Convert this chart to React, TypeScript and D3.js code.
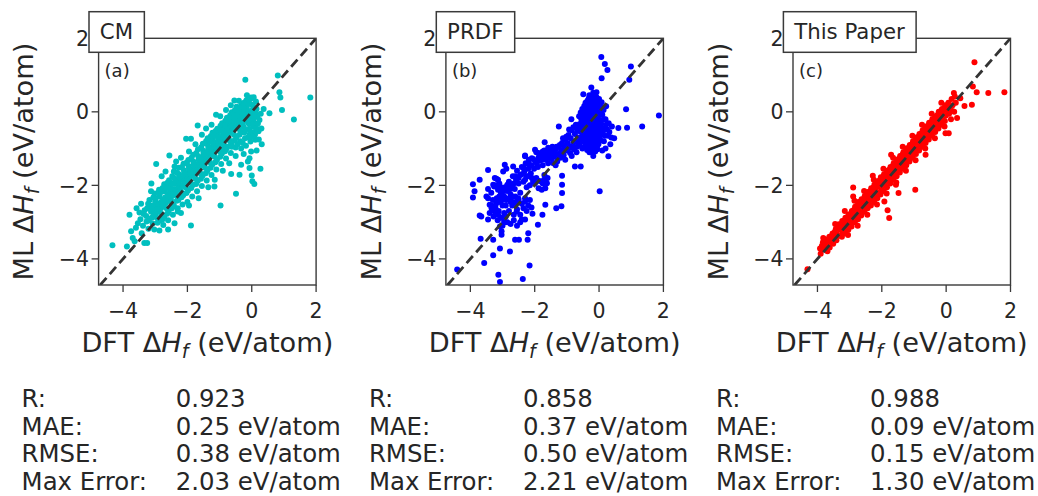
import React, { useEffect, useRef } from 'react';
import * as d3 from 'd3';

const W = 1038;
const H = 496;

const xTicks = [-4, -2, 0, 2];
const yTicks = [-4, -2, 0, 2];
const xDomain = [-4.76, 2];
const yDomain = [-4.71, 2];

const panelTitles = ['CM', 'PRDF', 'This Paper'];
const panelLetters = ['(a)', '(b)', '(c)'];
const panelColors = ['#00bfbf', '#0000ff', '#ff0000'];

const statLabels = ['R:', 'MAE:', 'RMSE:', 'Max Error:'];
const cmStats = ['0.923', '0.25 eV/atom', '0.38 eV/atom', '2.03 eV/atom'];
const prdfStats = ['0.858', '0.37 eV/atom', '0.50 eV/atom', '2.21 eV/atom'];
const paperStats = ['0.988', '0.09 eV/atom', '0.15 eV/atom', '1.30 eV/atom'];

const cmPoints: [number, number][] = [
  [-4.33,-3.63],[-3.88,-3.66],[-3.80,-2.80],[-3.75,-3.25],[-3.70,-3.43],[-3.64,-3.52],[-3.54,-3.03],[-3.49,-2.74],[-3.44,-2.50],[-3.34,-3.57],[-3.25,-3.57],[-3.60,-3.15],[-3.42,-3.30],
  [-3.46,-2.92],[-3.38,-3.10],[-3.33,-2.68],[-3.28,-2.83],[-3.27,-2.98],[-3.21,-3.18],[-3.18,-2.40],[-3.16,-2.57],[-3.13,-2.72],[-3.11,-2.88],[-3.08,-3.04],[-3.03,-3.20],[-3.02,-2.22],[-3.00,-2.43],[-2.98,-2.58],[-2.97,-2.75],[-2.95,-2.88],[-2.93,-3.02],[-2.87,-3.23],[-2.88,-2.12],[-2.86,-2.31],[-2.84,-2.47],[-2.82,-2.62],[-2.80,-2.78],[-2.78,-2.93],[-2.75,-3.08],[-2.72,-1.97],[-2.71,-2.16],[-2.69,-2.33],[-2.67,-2.48],[-2.65,-2.62],[-2.63,-2.77],[-2.60,-2.95],[-2.57,-1.86],[-2.56,-2.03],[-2.54,-2.18],[-2.52,-2.33],[-2.50,-2.47],[-2.48,-2.62],[-2.45,-2.80],
  [-2.42,-1.62],[-2.41,-1.80],[-2.39,-1.96],[-2.37,-2.12],[-2.35,-2.27],[-2.33,-2.42],[-2.30,-2.62],[-2.27,-1.52],[-2.26,-1.70],[-2.24,-1.86],[-2.22,-2.01],[-2.20,-2.16],[-2.18,-2.32],[-2.15,-2.52],[-2.12,-1.41],[-2.11,-1.59],[-2.09,-1.76],[-2.07,-1.91],[-2.05,-2.06],[-2.03,-2.21],[-2.00,-2.45],[-1.97,-1.31],[-1.96,-1.47],[-1.94,-1.62],[-1.92,-1.77],[-1.90,-1.92],[-1.88,-2.07],[-1.85,-2.30],[-1.82,-1.17],[-1.81,-1.36],[-1.79,-1.51],[-1.77,-1.66],[-1.75,-1.81],[-1.73,-1.96],[-1.70,-2.16],[-1.67,-1.02],[-1.66,-1.21],[-1.64,-1.37],[-1.62,-1.52],[-1.60,-1.67],[-1.58,-1.82],[-1.55,-2.02],[-1.52,-0.87],[-1.51,-1.06],[-1.49,-1.22],[-1.47,-1.37],[-1.45,-1.52],[-1.43,-1.67],[-1.40,-1.87],
  [-1.37,-0.72],[-1.36,-0.91],[-1.34,-1.07],[-1.32,-1.22],[-1.30,-1.37],[-1.28,-1.52],[-1.25,-1.72],[-1.22,-0.57],[-1.21,-0.76],[-1.19,-0.92],[-1.17,-1.07],[-1.15,-1.22],[-1.13,-1.37],[-1.10,-1.57],[-1.07,-0.46],[-1.06,-0.62],[-1.04,-0.77],[-1.02,-0.92],[-1.00,-1.07],[-0.98,-1.22],[-0.95,-1.42],[-0.92,-0.31],[-0.91,-0.47],[-0.89,-0.62],[-0.87,-0.77],[-0.85,-0.92],[-0.83,-1.07],[-0.80,-1.27],[-0.77,-0.16],[-0.76,-0.32],[-0.74,-0.47],[-0.72,-0.62],[-0.70,-0.77],[-0.68,-0.92],[-0.65,-1.12],[-0.62,-0.01],[-0.61,-0.17],[-0.59,-0.32],[-0.57,-0.47],[-0.55,-0.62],[-0.53,-0.77],[-0.50,-0.97],[-0.47,0.14],[-0.46,-0.02],[-0.44,-0.17],[-0.42,-0.32],[-0.40,-0.47],[-0.38,-0.62],[-0.36,-0.80],[-0.33,-1.00],[-0.32,0.21],[-0.31,0.05],[-0.29,-0.11],[-0.27,-0.26],[-0.25,-0.41],[-0.23,-0.56],[-0.21,-0.72],[-0.18,-0.92],[-0.17,0.31],[-0.16,0.15],[-0.14,0.00],[-0.12,-0.16],[-0.10,-0.31],[-0.08,-0.46],[-0.06,-0.61],[-0.04,-0.81],[-0.02,-1.08],[-0.02,0.36],[-0.01,0.20],[0.01,0.05],[0.03,-0.11],[0.05,-0.26],[0.07,-0.41],[0.09,-0.56],[0.11,-0.76],[0.13,0.28],[0.15,0.08],[0.17,-0.12],[0.19,-0.32],[0.21,-0.53],
  [-3.36,-2.78],[-3.22,-2.50],[-3.20,-2.95],[-3.06,-2.33],[-3.05,-2.64],[-3.04,-2.81],[-2.91,-2.20],[-2.90,-2.52],[-2.89,-2.69],[-2.86,-2.96],[-2.77,-2.07],[-2.76,-2.40],[-2.74,-2.56],[-2.72,-2.86],[-2.62,-1.93],[-2.61,-2.25],[-2.59,-2.41],[-2.58,-2.70],[-2.47,-1.75],[-2.46,-2.10],[-2.44,-2.26],[-2.42,-2.55],[-2.32,-1.66],[-2.31,-1.94],[-2.29,-2.08],[-2.28,-2.40],[-2.17,-1.50],[-2.16,-1.83],[-2.14,-1.98],[-2.13,-2.27],[-2.02,-1.38],[-2.01,-1.68],[-1.99,-1.84],[-1.98,-2.14],[-1.87,-1.25],[-1.86,-1.56],[-1.84,-1.71],[-1.83,-1.99],[-1.72,-1.12],[-1.71,-1.44],[-1.69,-1.58],[-1.68,-1.88],[-1.57,-0.96],[-1.56,-1.30],[-1.54,-1.44],[-1.53,-1.74],[-1.42,-0.80],[-1.41,-1.14],[-1.39,-1.29],[-1.38,-1.60],[-1.27,-0.66],[-1.26,-0.99],[-1.24,-1.14],[-1.23,-1.44],[-1.12,-0.52],[-1.11,-0.84],[-1.09,-0.99],[-1.08,-1.30],[-0.97,-0.38],[-0.96,-0.69],[-0.94,-0.84],[-0.93,-1.14],[-0.82,-0.24],[-0.81,-0.54],[-0.79,-0.69],[-0.78,-1.00],[-0.67,-0.09],[-0.66,-0.39],[-0.64,-0.54],[-0.63,-0.85],[-0.52,0.05],[-0.51,-0.24],[-0.49,-0.39],[-0.48,-0.70],[-0.37,0.12],[-0.36,-0.18],[-0.34,-0.33],[-0.33,-0.55],[-0.24,0.25],[-0.23,-0.04],[-0.21,-0.19],[-0.20,-0.48],[-0.09,0.26],[-0.08,-0.08],[-0.06,-0.23],[-0.05,-0.53],[0.06,0.14],[0.07,-0.18],[0.09,-0.33],[0.10,-0.62],
  [-3.25,-2.62],[-3.09,-2.55],[-2.99,-2.35],[-2.93,-2.64],[-2.81,-2.18],[-2.79,-2.52],[-2.66,-2.08],[-2.64,-2.40],[-2.53,-2.10],[-2.51,-2.40],[-2.48,-1.95],[-2.38,-1.88],[-2.36,-2.20],[-2.25,-1.78],[-2.23,-2.10],[-2.10,-1.68],[-2.08,-1.98],[-1.95,-1.55],[-1.93,-1.85],[-1.80,-1.43],[-1.78,-1.74],[-1.65,-1.29],[-1.63,-1.60],[-1.50,-1.14],[-1.48,-1.45],[-1.35,-0.99],[-1.33,-1.30],[-1.20,-0.84],[-1.18,-1.15],[-1.05,-0.69],[-1.03,-0.99],[-0.90,-0.55],[-0.88,-0.85],[-0.75,-0.40],[-0.73,-0.70],[-0.60,-0.25],[-0.58,-0.55],[-0.45,-0.10],[-0.43,-0.40],[-0.30,-0.02],[-0.28,-0.33],[-0.15,0.08],[-0.13,-0.24],[0.00,-0.02],[0.02,-0.34],[0.12,-0.02],[0.14,-0.44],
  [-0.95,-1.00],[-0.80,-0.95],[-0.62,-0.95],[-0.45,-0.88],[-0.28,-0.85],[-0.12,-0.70],[0.02,-0.68],[-1.30,-0.80],[-1.15,-0.65],[-0.98,-0.50],[-0.83,-0.38],[-0.70,-0.25],[-0.55,-0.10],[-0.40,0.02],[-0.26,0.12],
  [-3.58,-2.62],[-3.12,-1.95],[-2.80,-1.75],[-2.68,-1.62],[-2.35,-1.35],[-2.20,-1.25],[-1.95,-1.08],[-1.75,-0.88],[-1.55,-0.62],[-1.42,-0.45],[-1.25,-0.35],[-0.98,-0.12],[-0.80,0.05],[-0.65,0.18],[-0.40,0.30],[-2.60,-3.20],[-2.20,-2.75],[-1.95,-2.55],[-1.65,-2.35],[-1.35,-2.05],[-1.15,-1.85],[-0.90,-1.60],[-0.70,-1.40],[-0.50,-1.20],[-0.25,-1.15],[-0.12,-1.35],[0.15,-1.05],[0.22,-0.75],[0.30,-0.45],[0.28,-0.05],
  [-2.97,-1.42],[-2.56,-1.19],[-2.40,-1.49],[-2.04,-0.73],[-1.89,-0.73],[-1.68,-0.37],[-1.11,-0.08],[-3.13,-2.16],[-0.20,0.87],[-0.54,0.31],[-0.02,0.39],[0.06,0.40],[-0.15,0.45],
  [0.81,0.99],[0.86,0.53],[0.89,0.39],[0.94,0.05],[1.31,-0.21],[1.82,0.39],[0.37,0.08],[0.55,-0.04],[0.31,-0.88],[0.24,-0.22],[-0.07,-1.26],[-0.07,-1.53],[0.27,-1.55],[0.00,-1.73],[0.02,-1.89],[0.08,-1.96],[-0.49,-2.23],[-0.97,-2.55],[-1.16,-2.03],[-1.89,-3.09],[-2.40,-3.03],[-2.30,-2.71],[-0.64,-1.69],[-0.38,-1.71],[-0.33,-1.44],
];

const prdfPoints: [number, number][] = [
  [-0.62,-0.12],[-0.60,-0.33],[-0.63,-0.52],[-0.58,-0.71],[-0.61,-0.90],
  [-0.52,0.08],[-0.50,-0.10],[-0.53,-0.27],[-0.48,-0.45],[-0.51,-0.62],[-0.49,-0.80],[-0.52,-1.00],
  [-0.42,0.25],[-0.40,0.06],[-0.43,-0.14],[-0.38,-0.30],[-0.41,-0.49],[-0.39,-0.66],[-0.42,-0.84],[-0.37,-1.04],
  [-0.32,0.36],[-0.30,0.17],[-0.33,0.01],[-0.28,-0.19],[-0.31,-0.36],[-0.29,-0.54],[-0.32,-0.71],[-0.27,-0.90],[-0.30,-1.10],
  [-0.22,0.41],[-0.20,0.22],[-0.23,0.05],[-0.18,-0.11],[-0.21,-0.29],[-0.19,-0.46],[-0.22,-0.62],[-0.17,-0.80],[-0.20,-0.99],[-0.18,-1.20],
  [-0.12,0.31],[-0.10,0.12],[-0.13,-0.04],[-0.08,-0.21],[-0.11,-0.39],[-0.09,-0.56],[-0.12,-0.74],[-0.07,-0.94],
  [-0.02,0.22],[0.00,0.02],[-0.03,-0.18],[0.02,-0.34],[-0.01,-0.51],[0.01,-0.69],[-0.02,-0.88],
  [0.08,0.26],[0.10,-0.08],[0.07,-0.33],[0.12,-0.58],[0.15,-0.80],
  [0.20,-0.20],[0.25,-0.48],[0.30,-0.31],[0.35,-0.88],[0.22,0.15],[0.28,-0.65],
  [-0.35,-0.45],[-0.25,-0.38],[-0.15,-0.25],[-0.05,-0.30],[-0.45,-0.58],[-0.27,0.10],[-0.15,0.05],
  [-0.57,-0.02],[-0.55,-0.20],[-0.56,-0.40],[-0.54,-0.56],[-0.57,-0.80],[-0.46,0.16],[-0.45,-0.03],[-0.46,-0.20],[-0.44,-0.38],[-0.45,-0.72],[-0.44,-0.93],[-0.36,0.30],[-0.35,0.10],[-0.36,-0.08],[-0.34,-0.25],[-0.35,-0.60],[-0.33,-0.80],[-0.34,-0.98],[-0.26,0.28],[-0.25,-0.05],[-0.26,-0.27],[-0.24,-0.50],[-0.25,-0.70],[-0.24,-0.88],[-0.25,-1.08],[-0.16,0.35],[-0.15,0.18],[-0.14,-0.15],[-0.15,-0.35],[-0.14,-0.55],[-0.15,-0.68],[-0.13,-0.88],[-0.12,-1.08],[-0.06,0.25],[-0.05,0.05],[-0.06,-0.12],[-0.04,-0.45],[-0.05,-0.62],[-0.04,-0.80],[-0.05,-1.02],[0.04,0.15],[0.05,-0.08],[0.04,-0.25],[0.05,-0.45],[0.06,-0.62],[0.05,-0.78],[0.14,0.05],[0.15,-0.20],[0.16,-0.45],[0.18,-0.65],[0.22,-0.35],[0.32,-0.55],[0.40,-0.40],[0.38,-0.70],[0.20,-1.00],[0.10,-1.05],[-0.08,0.40],[-0.18,0.52],[-0.30,0.45],[0.00,0.35],
  [-0.72,-0.35],[-0.75,-0.60],[-0.70,-0.82],[-0.78,-1.02],[-0.85,-0.50],[-0.88,-0.72],[-0.83,-0.92],[-0.90,-1.12],[-0.95,-0.63],[-0.98,-0.85],[-1.00,-1.05],[-1.05,-0.75],[-1.08,-0.97],[-1.10,-1.18],[-1.15,-0.85],[-1.18,-1.05],[-1.20,-1.25],[-1.25,-0.95],[-1.28,-1.15],[-1.30,-1.35],[-1.35,-1.02],[-1.38,-1.22],[-1.42,-1.40],[-1.45,-1.10],[-1.48,-1.28],[-1.52,-1.05],[-1.55,-1.20],[-1.58,-1.40],[-1.62,-1.12],[-1.65,-1.30],[-1.70,-1.05],[-1.72,-1.22],[-1.75,-1.45],[-1.80,-1.15],[-1.83,-1.32],[-1.88,-1.25],[-1.90,-1.50],[-1.95,-1.10],[-1.98,-1.35],
  [-0.68,-0.48],[-0.66,-0.70],[-0.68,-0.95],[-0.80,-0.42],[-0.80,-0.82],[-0.93,-0.48],[-0.92,-0.97],[-1.02,-0.68],[-1.03,-0.92],[-1.12,-0.72],[-1.13,-1.12],[-1.22,-0.90],[-1.22,-1.15],[-1.32,-0.95],[-1.32,-1.20],[-1.40,-1.10],[-1.50,-1.18],[-1.60,-1.25],[-1.58,-0.98],[-1.68,-1.18],[-1.78,-1.30],[-1.85,-1.20],[-1.93,-1.42],[-1.75,-1.08],[-1.45,-0.95],[-1.35,-1.45],[-1.05,-1.30],[-0.85,-1.20],[-0.70,-1.10],
  [-2.02,-1.55],[-2.05,-1.28],[-2.10,-1.45],[-2.12,-1.68],[-2.18,-1.30],[-2.20,-1.55],[-2.25,-1.75],[-2.28,-1.40],[-2.32,-1.62],[-2.35,-1.90],[-2.40,-1.50],[-2.45,-1.72],[-2.50,-1.95],[-2.55,-1.60],[-2.58,-1.85],[-2.62,-2.10],[-2.68,-1.75],[-2.70,-2.00],[-2.75,-2.25],[-2.80,-1.90],[-2.85,-2.15],[-2.88,-2.40],[-2.92,-2.05],[-2.95,-2.30],[-3.00,-2.55],[-3.05,-2.20],[-3.08,-2.45],[-3.12,-2.70],[-3.18,-2.35],[-3.22,-2.60],[-3.28,-2.85],[-3.35,-2.55],[-3.40,-2.75],
  [-3.20,-2.00],[-3.10,-1.95],[-3.05,-2.05],[-2.95,-2.15],[-2.85,-1.98],[-2.75,-2.10],[-2.65,-1.95],[-2.60,-1.75],[-2.50,-1.80],[-2.40,-1.70],[-2.30,-1.85],[-2.20,-1.75],[-3.30,-2.40],[-3.20,-2.50],[-3.10,-2.30],[-3.00,-2.40],[-2.90,-2.55],[-2.80,-2.35],[-2.70,-2.30],[-2.60,-2.45],[-2.35,-2.62],[-2.25,-2.70],[-2.15,-2.40],[-2.10,-2.60],[-3.15,-2.95],[-3.05,-2.88],[-2.95,-3.00],[-2.75,-3.05],[-2.65,-2.95],[-2.55,-3.10],[-2.45,-3.00],[-3.35,-2.20],[-3.45,-2.10],
  [-1.95,-1.80],[-1.85,-1.88],[-1.75,-1.95],[-1.65,-1.92],[-1.60,-1.80],[-1.70,-1.72],[-2.05,-1.90],[-2.15,-2.00],[-2.25,-2.05],
  [-2.60,-2.30],[-2.50,-2.40],[-2.40,-2.50],[-2.30,-2.35],[-2.20,-2.55],[-2.45,-2.20],[-2.70,-2.55],[-2.80,-2.70],[-2.90,-2.85],[-2.75,-2.45],[-2.55,-2.65],[-2.65,-2.80],[-2.85,-3.00],[-3.00,-3.10],[-2.95,-2.75],
  [-2.93,-1.44],[-2.88,-1.55],[-2.67,-1.49],[-2.98,-1.62],[-3.24,-1.80],[-3.14,-1.85],[-3.29,-1.98],[-3.14,-2.12],[-3.03,-2.26],[-2.88,-2.08],[-2.77,-1.99],[-3.45,-2.35],[-3.40,-2.53],[-3.34,-2.62],[-3.24,-2.71],[-3.14,-2.80],[-2.98,-2.89],[-2.93,-2.98],[-3.08,-3.12],[-3.03,-3.25],
  [-2.72,-2.44],[-2.61,-2.53],[-2.56,-2.71],[-2.45,-2.80],[-2.40,-2.93],[-2.51,-2.35],[-2.30,-2.44],
  [-2.09,-1.80],[-1.99,-1.94],[-1.88,-2.08],[-1.78,-2.12],[-1.67,-2.08],[-1.62,-1.94],[-1.71,-1.85],
  [-2.35,-1.53],[-2.19,-1.40],[-2.09,-1.26],[-2.30,-1.21],[-1.94,-1.35],[-1.88,-1.12],
  [0.07,1.49],[0.18,1.30],[0.26,1.14],[0.08,0.91],[0.99,1.23],[0.94,0.87],[0.84,0.07],[0.60,-0.44],[0.87,-0.43],[1.34,-0.40],[1.86,-0.10],[0.47,-0.72],[0.29,-1.21],[0.02,-2.16],[-0.24,0.66],[-0.08,0.53],[-0.49,0.48],[-0.86,-0.20],[-1.25,-0.40],[-1.69,-0.83],[-1.99,-1.03],[-2.30,-1.19],[-3.45,-1.58],[-3.71,-1.85],[-3.92,-1.97],[-3.87,-2.16],[-3.92,-2.33],[-3.71,-2.82],[-3.66,-2.85],[-3.45,-2.93],[-3.68,-3.45],[-3.29,-3.48],[-3.03,-3.34],[-3.08,-3.72],[-2.77,-3.80],[-3.29,-3.90],[-3.57,-4.11],[-4.41,-4.29],[-3.13,-4.43],[-3.08,-4.63],[-2.37,-4.55],[-2.16,-4.18],[-2.61,-3.48],[-2.49,-3.48],[-2.22,-3.48],[-2.20,-3.30],[-1.90,-3.07],[-2.30,-2.93],[-1.76,-2.80],[-2.07,-2.77],[-1.15,-1.74],[-1.15,-1.98],[-1.15,-2.21],[-1.33,-2.62],[-1.17,-2.57],[-0.75,-1.49],[-0.57,-1.49],[-1.67,-2.53],[-3.19,-1.82],[-3.26,-2.03],[-3.50,-2.30],
];

const paperPoints: [number, number][] = [
  [-3.92,-3.72],[-3.90,-3.86],[-3.83,-3.55],[-3.80,-3.70],[-3.74,-3.47],[-3.71,-3.63],[-3.69,-3.79],[-3.63,-3.40],[-3.60,-3.54],[-3.62,-3.69],[-3.53,-3.31],[-3.50,-3.44],[-3.51,-3.59],[-3.43,-3.19],[-3.40,-3.33],[-3.41,-3.49],[-3.33,-3.06],[-3.30,-3.21],[-3.31,-3.37],[-3.23,-2.97],[-3.20,-3.12],[-3.21,-3.27],[-3.24,-3.40],[-3.13,-2.88],[-3.10,-3.02],[-3.11,-3.17],[-3.14,-3.30],[-3.03,-2.79],[-3.00,-2.94],[-3.01,-3.08],[-3.04,-3.21],[-2.93,-2.70],[-2.90,-2.84],[-2.91,-2.98],[-2.94,-3.12],[-2.83,-2.58],[-2.80,-2.72],[-2.81,-2.87],[-2.84,-3.00],[-2.73,-2.45],[-2.70,-2.62],[-2.71,-2.77],[-2.74,-2.92],[-2.63,-2.38],[-2.60,-2.52],[-2.61,-2.67],[-2.64,-2.82],[-2.53,-2.29],[-2.50,-2.44],[-2.51,-2.58],[-2.54,-2.72],[-2.43,-2.18],[-2.40,-2.34],[-2.41,-2.48],[-2.44,-2.62],[-2.33,-2.08],[-2.30,-2.24],[-2.31,-2.39],[-2.34,-2.55],[-2.23,-1.98],[-2.20,-2.14],[-2.21,-2.30],[-2.24,-2.45],[-2.13,-1.89],[-2.10,-2.04],[-2.11,-2.20],[-2.14,-2.35],[-2.03,-1.78],[-2.00,-1.94],[-2.01,-2.10],[-2.04,-2.25],[-1.93,-1.70],[-1.90,-1.85],[-1.91,-2.00],[-1.94,-2.15],[-1.83,-1.60],[-1.80,-1.75],[-1.81,-1.90],[-1.84,-2.05],[-1.73,-1.50],[-1.70,-1.65],[-1.71,-1.80],[-1.74,-1.95],[-1.63,-1.40],[-1.60,-1.55],[-1.61,-1.70],[-1.64,-1.85],[-1.53,-1.30],[-1.50,-1.45],[-1.51,-1.60],[-1.54,-1.75],[-1.43,-1.20],[-1.40,-1.35],[-1.41,-1.50],[-1.44,-1.65],[-1.33,-1.10],[-1.30,-1.25],[-1.31,-1.40],[-1.34,-1.55],[-1.23,-1.00],[-1.20,-1.15],[-1.21,-1.30],[-1.24,-1.45],[-1.13,-0.90],[-1.10,-1.05],[-1.11,-1.20],[-1.14,-1.35],[-1.03,-0.80],[-1.00,-0.95],[-1.01,-1.10],[-1.04,-1.25],[-0.93,-0.70],[-0.90,-0.85],[-0.91,-1.00],[-0.94,-1.15],[-0.83,-0.60],[-0.80,-0.75],[-0.81,-0.90],[-0.84,-1.05],[-0.73,-0.50],[-0.70,-0.65],[-0.71,-0.80],[-0.74,-0.95],[-0.63,-0.40],[-0.60,-0.55],[-0.61,-0.70],[-0.64,-0.85],[-0.53,-0.30],[-0.50,-0.45],[-0.51,-0.60],[-0.54,-0.75],[-0.43,-0.20],[-0.40,-0.35],[-0.41,-0.50],[-0.44,-0.65],[-0.33,-0.12],[-0.30,-0.25],[-0.31,-0.40],[-0.34,-0.55],[-0.23,0.00],[-0.20,-0.15],[-0.21,-0.30],[-0.24,-0.45],[-0.13,0.08],[-0.10,-0.05],[-0.11,-0.20],[-0.14,-0.35],[-0.03,0.18],[0.00,0.05],[-0.01,-0.10],[-0.04,-0.25],[0.07,0.25],[0.10,0.10],[0.09,-0.05],[0.17,0.35],[0.20,0.18],[0.19,0.02],[0.27,0.42],[0.30,0.25],
  [-3.86,-3.64],[-3.77,-3.58],[-3.66,-3.50],[-3.56,-3.38],[-3.46,-3.26],[-3.36,-3.14],[-3.26,-3.05],[-3.16,-2.95],[-3.06,-2.86],[-2.96,-2.77],[-2.86,-2.66],[-2.76,-2.55],[-2.66,-2.45],[-2.56,-2.37],[-2.46,-2.27],[-2.36,-2.16],[-2.26,-2.06],[-2.16,-1.97],[-2.06,-1.86],[-1.96,-1.77],[-1.86,-1.68],[-1.76,-1.57],[-1.66,-1.47],[-1.56,-1.38],[-1.46,-1.27],[-1.36,-1.17],[-1.26,-1.08],[-1.16,-0.97],[-1.06,-0.88],[-0.96,-0.77],[-0.86,-0.68],[-0.76,-0.58],[-0.66,-0.47],[-0.56,-0.38],[-0.46,-0.28],[-0.36,-0.18],[-0.26,-0.08],[-0.16,0.02],[-0.06,0.10],[0.04,0.18],
  [-3.45,-3.05],[-3.15,-2.70],[-2.85,-2.42],[-2.55,-2.15],[-2.25,-1.85],[-1.95,-1.55],[-1.65,-1.25],[-1.35,-0.95],[-1.05,-0.65],[-0.75,-0.35],[-0.45,-0.05],[-0.15,0.25],[-3.05,-3.35],[-2.75,-3.10],[-2.45,-2.80],[-2.15,-2.52],[-1.85,-2.22],[-1.55,-1.92],[-1.25,-1.60],[-0.95,-1.32],[-0.65,-1.00],[-0.35,-0.72],[-0.05,-0.40],[0.15,-0.20],[0.25,0.00],
  [0.88,1.35],[0.83,0.69],[0.95,0.53],[1.31,0.51],[1.81,0.53],[0.80,0.19],[0.57,0.16],[0.24,0.51],[0.44,0.37],[0.34,-0.17],[-0.02,-0.58],[0.08,-0.58],[-0.64,-1.17],[-0.96,-2.12],[-1.71,-1.17],[-2.28,-1.74],[-2.89,-2.06],[-2.89,-2.30],[-3.82,-3.43],[-3.87,-3.75],[-4.31,-4.28],[-1.82,-2.68],[-1.77,-2.89],[-1.92,-2.44],[-1.56,-1.98],[-1.48,-2.21],
];

const panelPoints = [cmPoints, prdfPoints, paperPoints];
const panelStats = [cmStats, prdfStats, paperStats];

const FONT = 'DejaVu Sans, sans-serif';
const INK = '#262626';
const SPINE = '#3a3a3a';

const panelLefts = [98.6, 445.9, 793];
const panelTop = 38.3;
const pw = 217.5;
const ph = 246.7;
const statRows = [407.2, 434.8, 462.4, 490];

const fmt = (d: number) => (d < 0 ? '\u2212' + Math.abs(d) : String(d));

function addMathLabel(sel: any, prefix: string, size: number) {
  sel.append('tspan').text(prefix + ' \u0394');
  sel.append('tspan').attr('font-style', 'italic').text('H');
  sel.append('tspan').attr('font-style', 'italic').attr('font-size', size * 0.7).attr('dy', size * 0.22).text('f');
  sel.append('tspan').attr('dy', -size * 0.22).text(' (eV/atom)');
}

export default function App() {
  const ref = useRef<SVGSVGElement>(null);
  useEffect(() => {
    const svg = d3.select(ref.current);
    svg.selectAll('*').remove();
    svg.append('rect').attr('width', W).attr('height', H).attr('fill', '#fff');

    panelPoints.forEach((pts, i) => {
      const x = d3.scaleLinear().domain(xDomain).range([0, pw]);
      const y = d3.scaleLinear().domain(yDomain).range([ph, 0]);
      const g = svg.append('g').attr('transform', `translate(${panelLefts[i]},${panelTop})`);
      const clipId = `clip${i}`;
      g.append('clipPath').attr('id', clipId).append('rect').attr('width', pw).attr('height', ph);

      const plot = g.append('g').attr('clip-path', `url(#${clipId})`);
      plot.selectAll('circle').data(pts).join('circle')
        .attr('cx', (d) => x(d[0]))
        .attr('cy', (d) => y(d[1]))
        .attr('r', 3)
        .attr('fill', panelColors[i]);
      const lo = Math.max(xDomain[0], yDomain[0]);
      plot.append('line')
        .attr('x1', x(lo)).attr('y1', y(lo)).attr('x2', x(2)).attr('y2', y(2))
        .attr('stroke', '#333').attr('stroke-width', 2.8).attr('stroke-dasharray', '9.5,5');

      xTicks.forEach((t) => {
        g.append('line').attr('x1', x(t)).attr('x2', x(t)).attr('y1', ph).attr('y2', ph + 7)
          .attr('stroke', SPINE).attr('stroke-width', 1.3);
        g.append('text').attr('x', x(t)).attr('y', ph + 33.3).attr('text-anchor', 'middle')
          .attr('font-family', FONT).attr('font-size', 20.5).attr('fill', INK).text(fmt(t));
      });
      yTicks.forEach((t) => {
        g.append('line').attr('x1', -7).attr('x2', 0).attr('y1', y(t)).attr('y2', y(t))
          .attr('stroke', SPINE).attr('stroke-width', 1.3);
        g.append('text').attr('x', -9.5).attr('y', y(t) + 7.4).attr('text-anchor', 'end')
          .attr('font-family', FONT).attr('font-size', 20.5).attr('fill', INK).text(fmt(t));
      });

      g.append('rect').attr('width', pw).attr('height', ph).attr('fill', 'none')
        .attr('stroke', SPINE).attr('stroke-width', 1.4);

      g.append('text').attr('x', 6).attr('y', 39).attr('font-family', FONT).attr('font-size', 18)
        .attr('fill', INK).text(panelLetters[i]);

      const xl = g.append('text').attr('x', pw / 2).attr('y', 314).attr('text-anchor', 'middle')
        .attr('font-family', FONT).attr('font-size', 27.2).attr('fill', INK);
      addMathLabel(xl, 'DFT', 27.2);
      const yl = g.append('text').attr('transform', `translate(-65.4,${ph / 2}) rotate(-90)`)
        .attr('text-anchor', 'middle').attr('font-family', FONT).attr('font-size', 27.2).attr('fill', INK);
      addMathLabel(yl, 'ML', 27.2);

      const tg = g.append('g');
      const rect = tg.append('rect');
      const tt = tg.append('text').attr('x', 1.2).attr('y', 0.8).attr('font-family', FONT)
        .attr('font-size', 21.3).attr('fill', INK).text(panelTitles[i]);
      const tw = (tt.node() as SVGTextElement).getComputedTextLength();
      rect.attr('x', -9.6).attr('y', -26.6).attr('width', tw + 1.2 + 11.3 + 9.6).attr('height', 40.6)
        .attr('fill', '#fff').attr('stroke', SPINE).attr('stroke-width', 1.5);

      statLabels.forEach((lab, k) => {
        svg.append('text').attr('x', panelLefts[i] - 77).attr('y', statRows[k])
          .attr('font-family', FONT).attr('font-size', 24.4).attr('fill', INK).text(lab);
        svg.append('text').attr('x', panelLefts[i] + 77.1).attr('y', statRows[k])
          .attr('font-family', FONT).attr('font-size', 24.4).attr('fill', INK).text(panelStats[i][k]);
      });
    });
  }, []);

  return (
    <svg ref={ref} width={W} height={H}
      style={{ position: 'absolute', left: 0, top: 0, display: 'block' }} />
  );
}
